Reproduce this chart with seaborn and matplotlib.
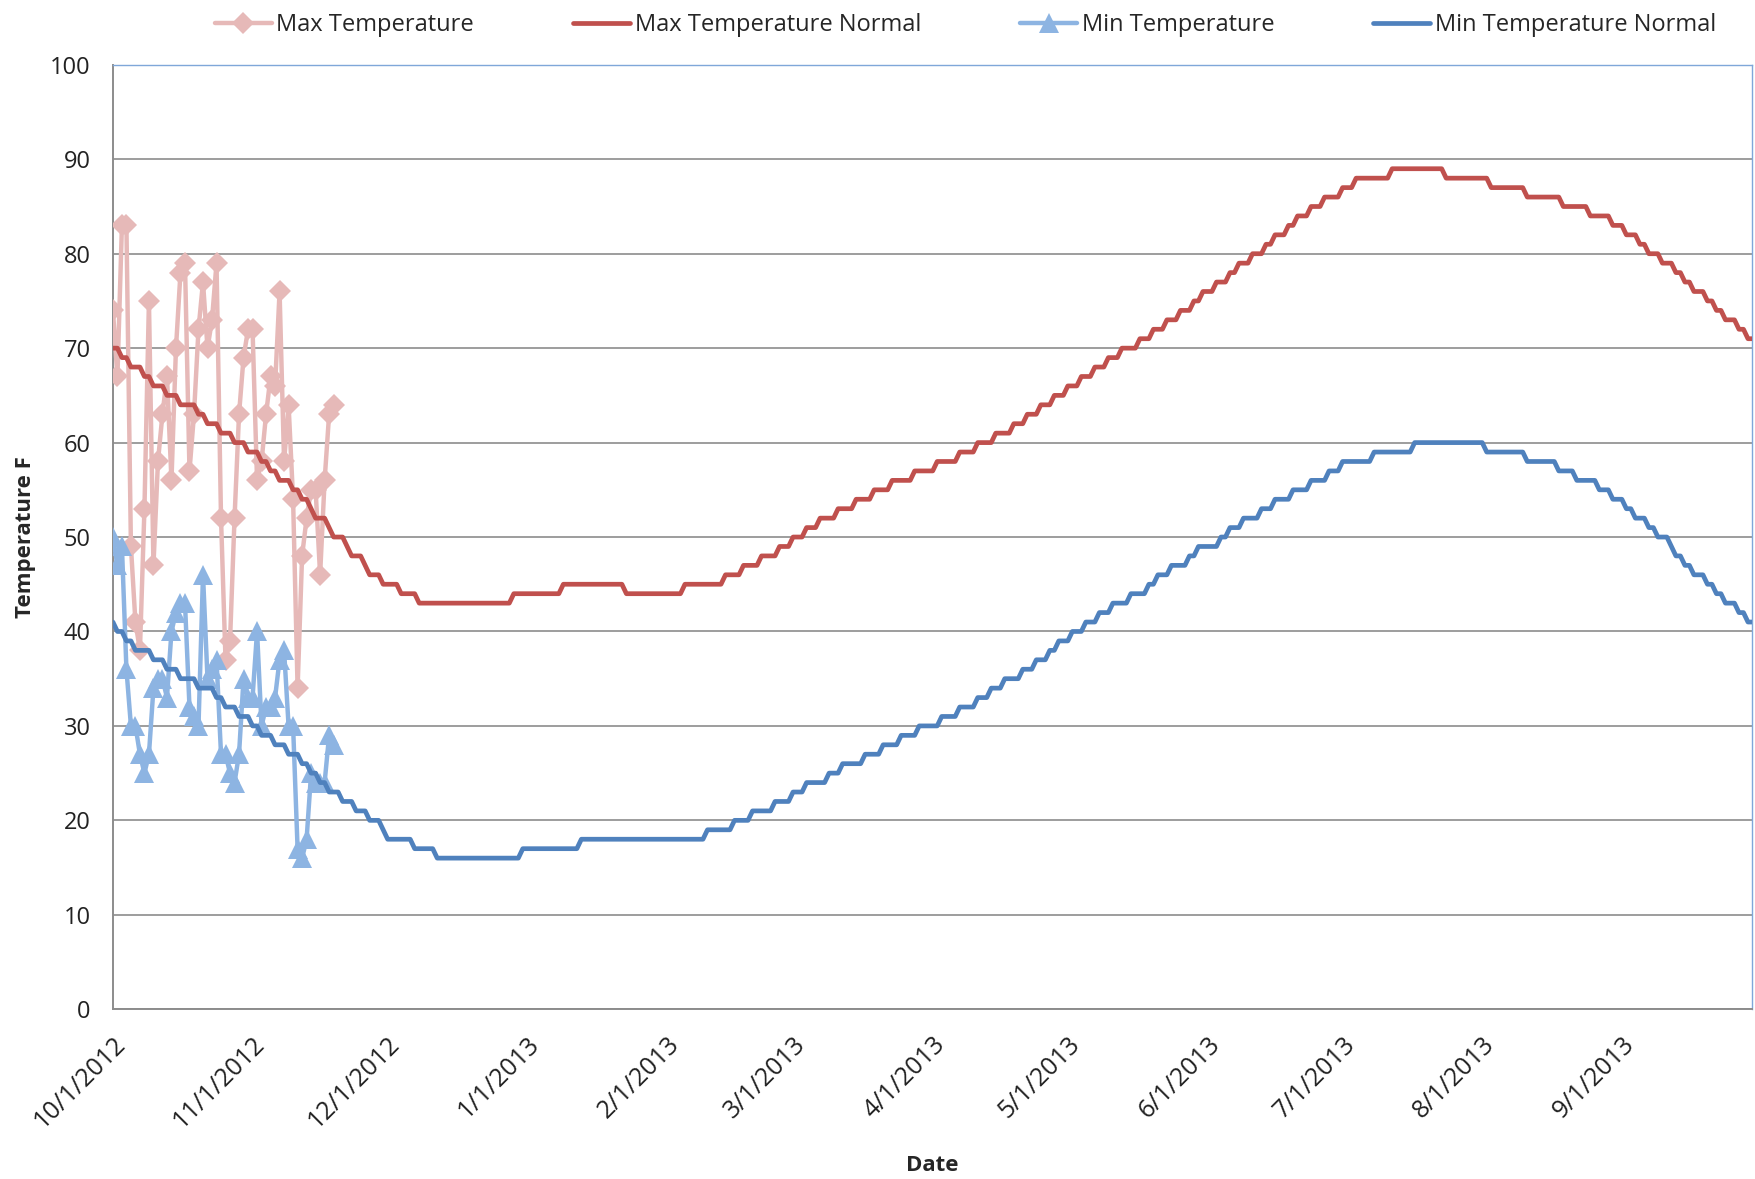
import numpy as np
import pandas as pd
import seaborn as sns
import matplotlib.pyplot as plt
import matplotlib.dates as mdates
from matplotlib.ticker import FuncFormatter

start = pd.Timestamp("2012-10-01")
end = pd.Timestamp("2013-09-30")

# observed daily values, 10/1/2012 onward
max_temp = [74, 67, 83, 83, 49, 41, 38, 53, 75, 47, 58, 63, 67, 56, 70, 78, 79, 57, 63, 72,
            77, 70, 73, 79, 52, 37, 39, 52, 63, 69, 72, 72, 56, 58, 63, 67, 66, 76, 58, 64,
            54, 34, 48, 52, 55, 55, 46, 56, 63, 64]
min_temp = [50, 47, 49, 36, 30, 30, 27, 25, 27, 34, 35, 35, 33, 40, 42, 43, 43, 32, 31, 30,
            46, 35, 36, 37, 27, 27, 25, 24, 27, 35, 33, 33, 40, 30, 32, 32, 33, 37, 38, 30,
            30, 17, 16, 18, 25, 24, 24, 24, 29, 28]

# normals: value and the day (offset from 10/1/2012) where that value begins
max_norm_vals = [70, 69, 68, 67, 66, 65, 64, 63, 62, 61, 60, 59, 58, 57, 56, 55, 54, 53, 52, 51,
                 50, 49, 48, 47, 46, 45, 44, 43, 44, 45, 44, 45, 46, 47, 48, 49, 50, 51, 52, 53,
                 54, 55, 56, 57, 58, 59, 60, 61, 62, 63, 64, 65, 66, 67, 68, 69, 70, 71, 72, 73,
                 74, 75, 76, 77, 78, 79, 80, 81, 82, 83, 84, 85, 86, 87, 88, 89, 88, 87, 86, 85,
                 84, 83, 82, 81, 80, 79, 78, 77, 76, 75, 74, 73, 72, 71]
max_norm_start = [0, 2, 4, 7, 9, 12, 15, 19, 21, 24, 27, 30, 33, 35, 37, 40, 42, 44, 45, 48,
                  49, 52, 53, 56, 57, 60, 64, 68, 89, 100, 114, 127, 136, 140, 144, 148, 151, 154, 157, 161,
                  165, 169, 173, 178, 183, 188, 192, 196, 200, 203, 206, 209, 212, 215, 218, 221, 224, 228, 231, 234,
                  237, 240, 242, 245, 248, 250, 253, 256, 258, 261, 263, 266, 269, 273, 276, 284, 296, 306, 314, 322,
                  328, 333, 336, 339, 341, 344, 347, 349, 351, 354, 356, 358, 361, 363]

min_norm_vals = [41, 40, 39, 38, 37, 36, 35, 34, 33, 32, 31, 30, 29, 28, 27, 26, 25, 24, 23, 22,
                 21, 20, 19, 18, 17, 16, 17, 18, 19, 20, 21, 22, 23, 24, 25, 26, 27, 28, 29, 30,
                 31, 32, 33, 34, 35, 36, 37, 38, 39, 40, 41, 42, 43, 44, 45, 46, 47, 48, 49, 50,
                 51, 52, 53, 54, 55, 56, 57, 58, 59, 60, 59, 58, 57, 56, 55, 54, 53, 52, 51, 50,
                 49, 48, 47, 46, 45, 44, 43, 42, 41]
min_norm_start = [0, 1, 3, 5, 9, 12, 15, 19, 23, 25, 28, 31, 33, 36, 39, 42, 44, 46, 48, 51,
                  54, 57, 60, 61, 67, 72, 91, 104, 132, 138, 142, 147, 151, 154, 159, 162, 167, 171, 175, 179,
                  184, 188, 192, 195, 198, 202, 205, 208, 210, 213, 216, 219, 222, 226, 230, 232, 235, 239, 241, 246,
                  248, 251, 255, 258, 262, 266, 270, 273, 280, 289, 305, 314, 321, 325, 330, 333, 336, 338, 341, 343,
                  346, 347, 349, 351, 354, 356, 358, 361, 363]

days = pd.date_range(start, end, freq="D")
n_days = len(days)


def expand(vals, starts):
    lengths = np.diff(list(starts) + [n_days])
    return np.repeat(vals, lengths)


obs = pd.DataFrame({
    "date": days[:len(max_temp)],
    "max": max_temp,
    "min": min_temp,
})
norm = pd.DataFrame({
    "date": days,
    "max_norm": expand(max_norm_vals, max_norm_start),
    "min_norm": expand(min_norm_vals, min_norm_start),
})

sns.set_style("white")
plt.rcParams['font.family'] = ['Open Sans', 'DejaVu Sans']

fig = plt.figure(figsize=(17.56, 11.79), dpi=100)
ax = fig.add_axes([0.0643, 0.144, 0.9337, 0.801])

sns.lineplot(data=obs, x="date", y="max", ax=ax, color="#E6B9B8", linewidth=3.2,
             marker="D", markersize=11, markeredgewidth=0, label="Max Temperature", zorder=3)
sns.lineplot(data=norm, x="date", y="max_norm", ax=ax, color="#C0504D", linewidth=3.4,
             label="Max Temperature Normal", zorder=4)
sns.lineplot(data=obs, x="date", y="min", ax=ax, color="#8DB4E2", linewidth=3.2,
             marker="^", markersize=14, markeredgewidth=0, label="Min Temperature", zorder=3)
sns.lineplot(data=norm, x="date", y="min_norm", ax=ax, color="#4F81BD", linewidth=3.4,
             label="Min Temperature Normal", zorder=4)

ax.set_xlim(start, end)
ax.set_ylim(0, 100)
ax.set_yticks(range(0, 101, 10))
ax.xaxis.set_major_locator(mdates.MonthLocator(bymonthday=1))
ax.xaxis.set_major_formatter(FuncFormatter(
    lambda v, pos: f"{mdates.num2date(v).month}/{mdates.num2date(v).day}/{mdates.num2date(v).year}"))

ax.grid(axis="y", color="#8C8C8C", linewidth=1.2)
ax.set_axisbelow(True)
for side in ["left", "bottom"]:
    ax.spines[side].set_color("#8C8C8C")
    ax.spines[side].set_linewidth(1.4)
for side in ["top", "right"]:
    ax.spines[side].set_color("#7FA7D9")
    ax.spines[side].set_linewidth(1.0)

ax.tick_params(axis="both", which="major", direction="out", length=8, width=1.2,
               color="#8C8C8C", labelsize=17, labelcolor="#222222")
ax.tick_params(axis="y", pad=8)
ax.tick_params(axis="x", pad=8, labelsize=18)
plt.setp(ax.get_xticklabels(), rotation=45, ha="right", rotation_mode="anchor")

ax.set_xlabel("Date", fontsize=16, fontweight="bold", labelpad=16)
ax.set_ylabel("Temperature F", fontsize=16, fontweight="bold", labelpad=10)

ax.legend(loc="upper center", bbox_to_anchor=(0.52, 1.077), ncol=4, frameon=False,
          fontsize=17, handlelength=2.4, handletextpad=0.2, columnspacing=4.2)

plt.savefig("out.png", dpi=100)
